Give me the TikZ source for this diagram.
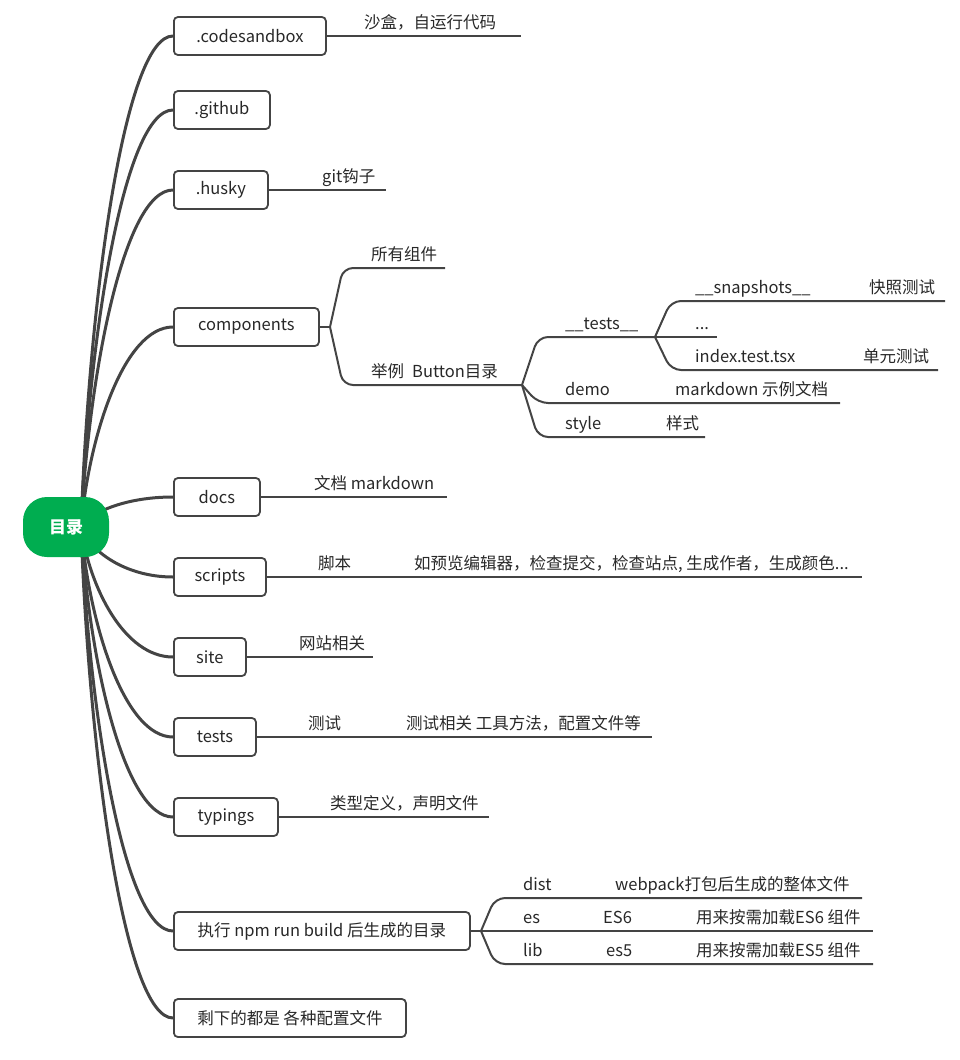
\documentclass[tikz,border=0pt]{standalone}
\usepackage{fontspec}
\setmainfont{Noto Sans CJK SC}
\usetikzlibrary{calc}
\definecolor{lc}{RGB}{68,68,68}
\definecolor{tc}{RGB}{40,40,40}
\definecolor{rootgreen}{RGB}{0,173,80}
\newcommand\myfs{\fontsize{16.5}{19}\selectfont}
\tikzset{
  box/.style={draw=lc, line width=1.8pt, rounded corners=4pt, fill=white, minimum height=38pt, inner xsep=2pt, anchor=west, text=tc, font=\myfs},
  lbl/.style={anchor=base west, inner sep=0pt, text=tc, font=\myfs},
  conn/.style={draw=lc, line width=3pt},
  sub/.style={draw=lc, line width=2pt, rounded corners=10pt},
  rootnode/.style={fill=rootgreen, rounded corners=24pt, minimum width=86pt, minimum height=60pt, text=white, font=\fontsize{17}{20}\selectfont\bfseries}
}
\begin{document}
\begin{tikzpicture}[x=1pt,y=-1pt]
\useasboundingbox (0,0) rectangle (960,1060);
% first-level boxes
\node[box, minimum width=152pt] (b1) at (173,36) {.codesandbox};
\node[box, minimum width=96pt] (b2) at (173,110) {.github};
\node[box, minimum width=94pt] (b3) at (173,190) {.husky};
\node[box, minimum width=145pt] (b4) at (173,327) {components};
\node[box, minimum width=86pt] (b5) at (173,497) {docs};
\node[box, minimum width=92pt] (b6) at (173,577) {scripts};
\node[box, minimum width=72pt] (b7) at (173,657) {site};
\node[box, minimum width=82pt] (b8) at (173,737) {tests};
\node[box, minimum width=104pt] (b9) at (173,817) {typings};
\node[box, minimum width=296pt] (b10) at (173,931) {执行 npm run build 后生成的目录};
\node[box, minimum width=232pt] (b11) at (173,1018) {剩下的都是 各种配置文件};
% root connectors
\coordinate (rs) at (81,527);
\foreach \i in {1,...,11}{
  \draw[conn] let \p1=(rs), \p2=(b\i.west) in
    (\p1) .. controls ({\x1+8pt}, {\y1+0.46*(\y2-\y1)}) and ({\x1+0.47*(\x2-\x1)}, \y2) .. (\p2);
}
\node[rootnode] (root) at (66,527) {目录};
% line ends
\coordinate (e1) at (521,36);
\coordinate (e3) at (386,190);
\coordinate (j4) at (330,327);
\coordinate (e41) at (445,268);
\coordinate (e42) at (522,385);
\coordinate (e421) at (655,337);
\coordinate (e4211) at (945,301);
\coordinate (e4212) at (717,337);
\coordinate (e4213) at (938,370);
\coordinate (e422) at (840,403);
\coordinate (e423) at (705,437);
\coordinate (e5) at (447,497);
\coordinate (e6) at (862,577);
\coordinate (e7) at (373,657);
\coordinate (e8) at (652,737);
\coordinate (e9) at (489,817);
\coordinate (j10) at (481,931);
\coordinate (e101) at (862,898);
\coordinate (e102) at (873,931);
\coordinate (e103) at (873,964);
% sub lines
\draw[sub] (b1.east) -- (e1);
\draw[sub] (b3.east) -- (e3);
\draw[sub] (b4.east) -- (j4);
\draw[sub] (j4) -- (343,268) -- (e41);
\draw[sub] (j4) -- (343,385) -- (e42);
\draw[sub] (e42) -- (538,337) -- (e421);
\draw[sub] (e42) -- (538,403) -- (e422);
\draw[sub] (e42) -- (538,437) -- (e423);
\draw[sub] (e421) -- (671,301) -- (e4211);
\draw[sub] (e421) -- (e4212);
\draw[sub] (e421) -- (671,370) -- (e4213);
\draw[sub] (b5.east) -- (e5);
\draw[sub] (b6.east) -- (e6);
\draw[sub] (b7.east) -- (e7);
\draw[sub] (b8.east) -- (e8);
\draw[sub] (b9.east) -- (e9);
\draw[sub] (b10.east) -- (j10);
\draw[sub] (j10) -- (495,898) -- (e101);
\draw[sub] (j10) -- (e102);
\draw[sub] (j10) -- (495,964) -- (e103);
% labels
\node[lbl] (t1) at (364,28) {沙盒，自运行代码};
\node[lbl] (t3) at (322,182) {git钩子};
\node[lbl] (t41) at (371,260) {所有组件};
\node[lbl] (t42) at (371,377) {举例\hspace{8pt}Button目录};
\node[lbl] (t421) at (565,329) {\_\_tests\_\_};
\node[lbl] (t4211) at (695,293) {\_\_snapshots\_\_};
\node[lbl] (t4211b) at (869,293) {快照测试};
\node[lbl] (t4212) at (695,329) {...};
\node[lbl] (t4213) at (695,362) {index.test.tsx};
\node[lbl] (t4213b) at (863,362) {单元测试};
\node[lbl] (t422) at (565,395) {demo};
\node[lbl] (t422b) at (675,395) {markdown 示例文档};
\node[lbl] (t423) at (565,429) {style};
\node[lbl] (t423b) at (666,429) {样式};
\node[lbl] (t5) at (314,489) {文档 markdown};
\node[lbl] (t6) at (318,569) {脚本};
\node[lbl] (t6b) at (414,569) {如预览编辑器，检查提交，检查站点, 生成作者，生成颜色...};
\node[lbl] (t7) at (299,649) {网站相关};
\node[lbl] (t8) at (308,729) {测试};
\node[lbl] (t8b) at (406,729) {测试相关 工具方法，配置文件等};
\node[lbl] (t9) at (330,809) {类型定义，声明文件};
\node[lbl] (t101) at (523,890) {dist};
\node[lbl] (t101b) at (615,890) {webpack打包后生成的整体文件};
\node[lbl] (t102) at (523,923) {es};
\node[lbl] (t102b) at (603,923) {ES6};
\node[lbl] (t102c) at (696,923) {用来按需加载ES6 组件};
\node[lbl] (t103) at (523,956) {lib};
\node[lbl] (t103b) at (606,956) {es5};
\node[lbl] (t103c) at (696,956) {用来按需加载ES5 组件};
\end{tikzpicture}
\end{document}
